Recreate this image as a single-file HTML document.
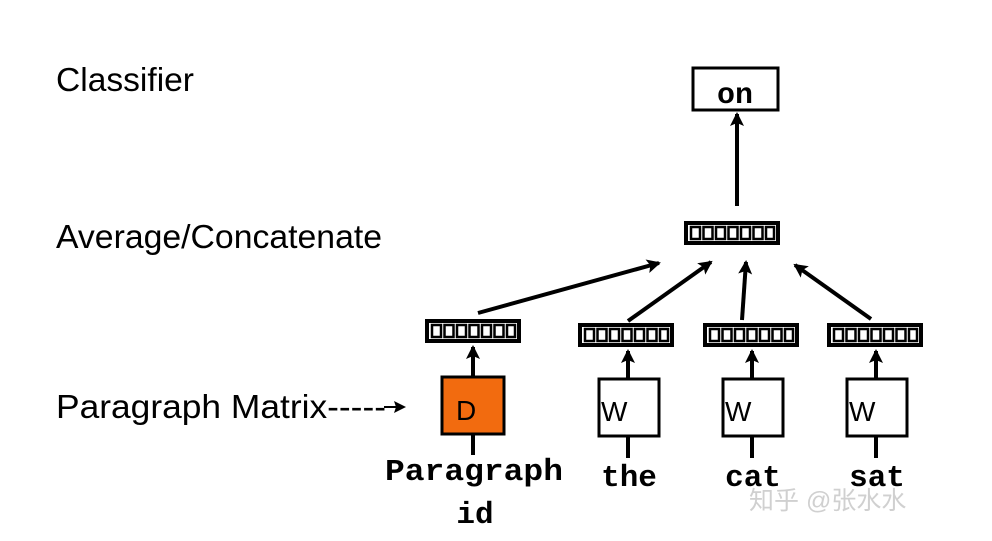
<!DOCTYPE html>
<html><head><meta charset="utf-8"><style>
body{margin:0;background:#fff;}
svg{display:block;}
</style></head><body>
<svg width="992" height="541" viewBox="0 0 992 541" xmlns="http://www.w3.org/2000/svg">
<defs>
<marker id="ah" markerWidth="16" markerHeight="16" refX="12" refY="7" orient="auto" markerUnits="userSpaceOnUse">
<path d="M0,0 L14,7 L0,14 L3,7 Z" fill="#000"/>
</marker>
<marker id="ah2" markerWidth="12" markerHeight="12" refX="10" refY="6" orient="auto" markerUnits="userSpaceOnUse">
<path d="M0,0 L12,6 L0,12 L2,6 Z" fill="#000"/>
</marker>
<g id="vec">
<rect x="0" y="0" width="92" height="20" fill="#fff" stroke="#000" stroke-width="4"/>
<rect x="5" y="4" width="9" height="12" fill="none" stroke="#000" stroke-width="2.5"/>
<rect x="17.5" y="4" width="9" height="12" fill="none" stroke="#000" stroke-width="2.5"/>
<rect x="30" y="4" width="9" height="12" fill="none" stroke="#000" stroke-width="2.5"/>
<rect x="42.5" y="4" width="9" height="12" fill="none" stroke="#000" stroke-width="2.5"/>
<rect x="55" y="4" width="9" height="12" fill="none" stroke="#000" stroke-width="2.5"/>
<rect x="67.5" y="4" width="9" height="12" fill="none" stroke="#000" stroke-width="2.5"/>
<rect x="80" y="4" width="8" height="12" fill="none" stroke="#000" stroke-width="2.5"/>
</g>
</defs>
<g font-family="Liberation Sans, sans-serif" font-size="33" fill="#000">
<text x="56" y="91" textLength="138" lengthAdjust="spacingAndGlyphs">Classifier</text>
<text x="56" y="248" textLength="326" lengthAdjust="spacingAndGlyphs">Average/Concatenate</text>
<text x="56" y="418" textLength="330" lengthAdjust="spacingAndGlyphs">Paragraph Matrix-----</text>
</g>
<line x1="384" y1="407" x2="404" y2="407" stroke="#000" stroke-width="2" marker-end="url(#ah2)"/>

<rect x="693" y="68" width="85" height="42" fill="#fff" stroke="#000" stroke-width="3"/>
<text x="735" y="103" text-anchor="middle" font-family="Liberation Mono, monospace" font-weight="bold" font-size="30">on</text>
<line x1="737" y1="206" x2="737" y2="114" stroke="#000" stroke-width="4" marker-end="url(#ah)"/>

<use href="#vec" x="686" y="223"/>
<use href="#vec" x="427" y="321"/>
<use href="#vec" x="580" y="325"/>
<use href="#vec" x="705" y="325"/>
<use href="#vec" x="829" y="325"/>

<g stroke="#000" stroke-width="4">
<line x1="478" y1="313" x2="659" y2="263" marker-end="url(#ah)"/>
<line x1="628" y1="321" x2="711" y2="262" marker-end="url(#ah)"/>
<line x1="742" y1="320" x2="746" y2="262" marker-end="url(#ah)"/>
<line x1="871" y1="319" x2="795" y2="265" marker-end="url(#ah)"/>
<line x1="473" y1="376" x2="473" y2="347" marker-end="url(#ah)"/>
<line x1="628" y1="378" x2="628" y2="351" marker-end="url(#ah)"/>
<line x1="752" y1="378" x2="752" y2="351" marker-end="url(#ah)"/>
<line x1="876" y1="378" x2="876" y2="351" marker-end="url(#ah)"/>
<line x1="473" y1="434" x2="473" y2="455"/>
<line x1="628" y1="436" x2="628" y2="458"/>
<line x1="752" y1="436" x2="752" y2="458"/>
<line x1="876" y1="436" x2="876" y2="458"/>
</g>

<rect x="442" y="377" width="62" height="57" fill="#f26b0f" stroke="#000" stroke-width="3"/>
<rect x="599" y="379" width="60" height="57" fill="#fff" stroke="#000" stroke-width="3"/>
<rect x="723" y="379" width="60" height="57" fill="#fff" stroke="#000" stroke-width="3"/>
<rect x="847" y="379" width="60" height="57" fill="#fff" stroke="#000" stroke-width="3"/>
<g font-family="Liberation Sans, sans-serif" font-size="28" fill="#000">
<text x="456" y="420">D</text>
<text x="601" y="421">W</text>
<text x="725" y="421">W</text>
<text x="849" y="421">W</text>
</g>
<g font-family="Liberation Mono, monospace" font-weight="bold" font-size="31" fill="#000" text-anchor="middle">
<text x="474" y="480" textLength="178" lengthAdjust="spacingAndGlyphs">Paragraph</text>
<text x="475" y="523">id</text>
<text x="629" y="486">the</text>
<text x="753" y="486">cat</text>
<text x="877" y="486">sat</text>
</g>
<text x="749" y="509" font-family="Liberation Sans, Noto Sans CJK SC, sans-serif" font-size="25" fill="#d0d0d0">知乎 @张水水</text>
</svg>
</body></html>
